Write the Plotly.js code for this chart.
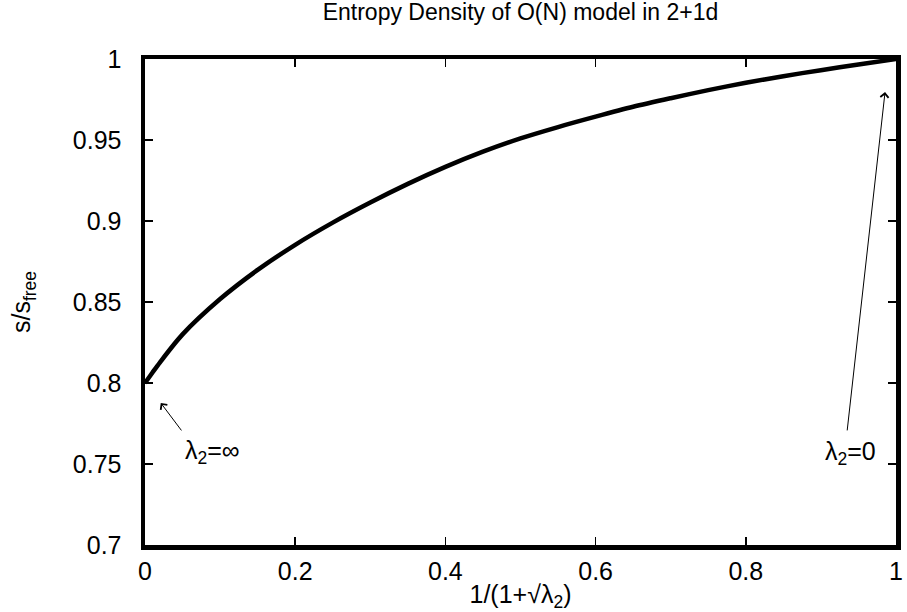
<!DOCTYPE html>
<html>
<head>
<meta charset="utf-8">
<script src="https://cdn.plot.ly/plotly-3.0.1.min.js"></script>
<style>html,body{margin:0;padding:0;background:#fff;}#plot{width:907px;height:612px;}</style>
</head>
<body>
<div id="plot"></div>
<script>
const xValues = [0, 0.01, 0.02, 0.05, 0.1, 0.15, 0.2, 0.25, 0.3, 0.35, 0.4, 0.45, 0.5, 0.55, 0.6, 0.65, 0.7, 0.75, 0.8, 0.85, 0.9, 0.95, 1];
const sRatio = [0.800, 0.8065, 0.8128, 0.830, 0.8518, 0.8698, 0.8853, 0.8990, 0.9114, 0.9229, 0.9334, 0.9428, 0.9510, 0.9580, 0.9644, 0.9705, 0.9758, 0.9808, 0.9853, 0.9894, 0.9931, 0.9966, 1.0];
const xTicks = [0, 0.2, 0.4, 0.6, 0.8, 1];
const yTicks = [0.7, 0.75, 0.8, 0.85, 0.9, 0.95, 1];
const labelInf = "λ<sub>2</sub>=∞";
const labelZero = "λ<sub>2</sub>=0";

const font = "Liberation Sans, Arial, sans-serif";
const fs = 25;

const trace = {
  x: xValues, y: sRatio, mode: 'lines', type: 'scatter',
  line: {color: '#000', width: 4.5, shape: 'spline', smoothing: 0.8},
  hoverinfo: 'skip', showlegend: false
};

const layout = {
  width: 907, height: 612,
  margin: {l: 144.5, r: 11, t: 59, b: 67},
  paper_bgcolor: '#fff', plot_bgcolor: '#fff',
  font: {family: font, color: '#000', size: fs},
  title: {text: 'Entropy Density of O(N) model in 2+1d', font: {size: 23, family: font, color: '#000'},
          xref: 'paper', x: 0.5, xanchor: 'center', yref: 'container', y: 0.994, yanchor: 'top', pad: {t: 0}},
  xaxis: {
    range: [0, 1], tickvals: xTicks, ticktext: xTicks.map(String),
    showgrid: false, zeroline: false,
    showline: true, linewidth: 4.5, linecolor: '#000', mirror: 'ticks',
    ticks: 'inside', ticklen: 8, tickwidth: 1.5, tickcolor: '#000',
    ticklabelstandoff: 0,
    tickfont: {size: fs, family: font},
    title: {text: '1/(1+√λ<sub>2</sub>)', font: {size: fs, family: font}, standoff: 16}
  },
  yaxis: {
    range: [0.7, 1], tickvals: yTicks, ticktext: yTicks.map(String),
    showgrid: false, zeroline: false,
    showline: true, linewidth: 4.5, linecolor: '#000', mirror: 'ticks',
    ticks: 'inside', ticklen: 8, tickwidth: 1.5, tickcolor: '#000',
    ticklabelstandoff: 14,
    tickfont: {size: fs, family: font},
    title: {text: 's/s<sub>free</sub>', font: {size: fs, family: font}, standoff: 36}
  },
  annotations: [
    {x: 0.021, y: 0.7877, ax: 0.05, ay: 0.7698, xref: 'x', yref: 'y', axref: 'x', ayref: 'y',
     text: '', showarrow: true, arrowhead: 4, arrowsize: 1.6, arrowwidth: 1, arrowcolor: '#000'},
    {x: 0.9854, y: 0.9796, ax: 0.9348, ay: 0.7698, xref: 'x', yref: 'y', axref: 'x', ayref: 'y',
     text: '', showarrow: true, arrowhead: 4, arrowsize: 1.6, arrowwidth: 1, arrowcolor: '#000'},
    {x: 0.0898, y: 0.7574, xref: 'x', yref: 'y', text: labelInf, showarrow: false,
     font: {size: fs, family: font, color: '#000'}, xanchor: 'center', yanchor: 'middle'},
    {x: 0.940, y: 0.7568, xref: 'x', yref: 'y', text: labelZero, showarrow: false,
     font: {size: fs, family: font, color: '#000'}, xanchor: 'center', yanchor: 'middle'}
  ]
};

Plotly.newPlot('plot', [trace], layout, {displayModeBar: false, staticPlot: true});
</script>
</body>
</html>
